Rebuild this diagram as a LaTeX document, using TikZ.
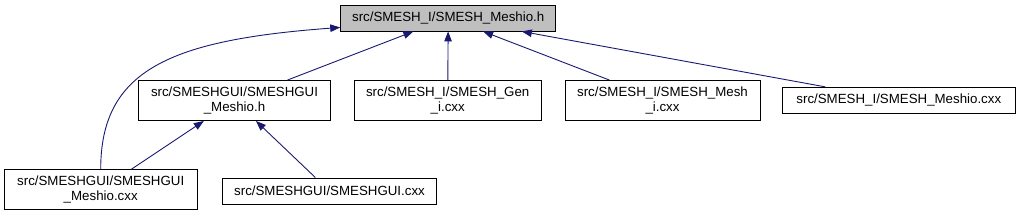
\documentclass[tikz,border=0pt]{standalone}
\usepackage{fontspec}
\setmainfont{Liberation Sans}
\usetikzlibrary{arrows.meta}
\definecolor{edgeblue}{RGB}{25,25,112}
\definecolor{topgray}{RGB}{191,191,191}
\begin{document}
\begin{tikzpicture}[x=1pt,y=-1pt,
  box/.style={draw=black,line width=0.9pt,fill=white,inner sep=0pt,align=center,
    font=\fontsize{13.3}{15}\selectfont,minimum height=26pt},
  twoline/.style={minimum height=40pt},
  edge/.style={draw=edgeblue,line width=0.9pt,-{Triangle[length=10pt,width=7.5pt]}}]
\useasboundingbox (0,0) rectangle (1019,216);
\node[box,fill=topgray,minimum width=215pt] (top) at (448.2,18) {src/SMESH\_I/SMESH\_Meshio.h};
\node[box,twoline,minimum width=192.4pt] (gui) at (234.5,100.5) {src/SMESHGUI/SMESHGUI\\\_Meshio.h};
\node[box,twoline,minimum width=186.7pt] (gen) at (447.7,100.5) {src/SMESH\_I/SMESH\_Gen\\\_i.cxx};
\node[box,twoline,minimum width=195pt] (mesh) at (662.5,100.5) {src/SMESH\_I/SMESH\_Mesh\\\_i.cxx};
\node[box,minimum width=232.3pt] (mcxx) at (898.8,100.3) {src/SMESH\_I/SMESH\_Meshio.cxx};
\node[box,twoline,minimum width=193.3pt] (guicxx) at (100.7,189.7) {src/SMESHGUI/SMESHGUI\\\_Meshio.cxx};
\node[box,minimum width=214.4pt] (smgui) at (329.5,191) {src/SMESHGUI/SMESHGUI.cxx};
\draw[edge] (guicxx.north) .. controls (100.7,70) and (170,40) .. (top.185);
\draw[edge] (gui) -- (top);
\draw[edge] (gen) -- (top);
\draw[edge] (mesh) -- (top);
\draw[edge] (mcxx) -- (top);
\draw[edge] (guicxx) -- (gui);
\draw[edge] (smgui) -- (gui);
\end{tikzpicture}
\end{document}
